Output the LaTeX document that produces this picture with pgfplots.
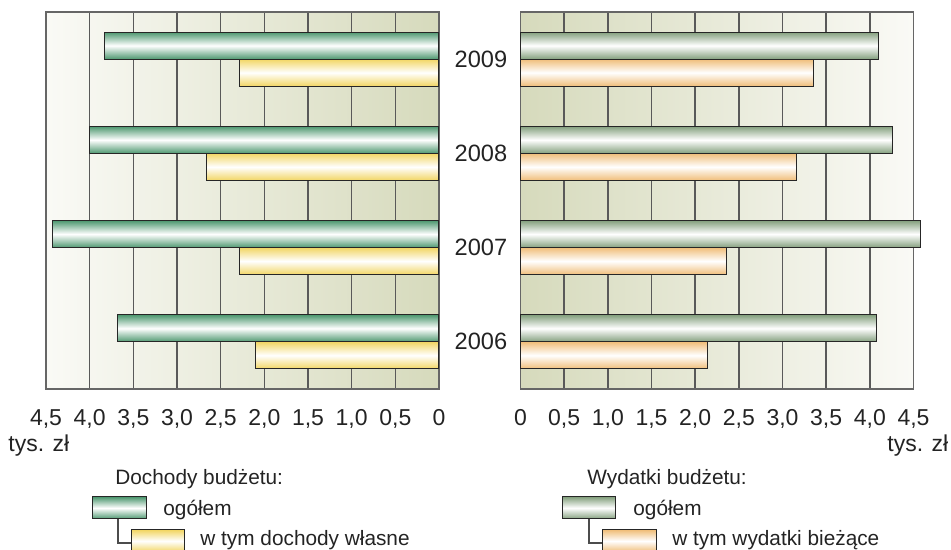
\documentclass[border=0pt]{standalone}
\usepackage{fontspec}
\setmainfont{Liberation Sans}
\usepackage{pgfplots}
\usepackage{pgfplotstable}
\pgfplotsset{compat=1.18}

\definecolor{bgL}{RGB}{250,250,246}
\definecolor{bgD}{RGB}{214,218,188}
\definecolor{grn}{RGB}{78,152,112}
\definecolor{yel}{RGB}{242,214,100}
\definecolor{gry}{RGB}{132,160,126}
\definecolor{pea}{RGB}{240,190,122}
\definecolor{txt}{RGB}{35,35,35}

% dochody ogolem / wlasne, wydatki ogolem / biezace (tys. zl)
\pgfplotstableread{
rok  dog  dwl  wog  wbz
2006 3.68 2.10 4.08 2.14
2007 4.42 2.29 4.58 2.36
2008 4.00 2.66 4.26 3.16
2009 3.83 2.29 4.10 3.35
}\dane

\tikzset{cyl/.style={draw=black!85, line width=0.5pt, top color=#1, bottom color=#1, middle color=white}}

\pgfplotsset{
  panel/.style={
    scale only axis, width=196.5pt, height=188.5pt, anchor=south west,
    xbar, bar width=13.5pt,
    xmin=0, xmax=4.5, ymin=2005.5, ymax=2009.5,
    xtick={0,0.5,1,1.5,2,2.5,3,3.5,4,4.5},
    xticklabels={0,{0,5},{1,0},{1,5},{2,0},{2,5},{3,0},{3,5},{4,0},{4,5}},
    major tick length=0pt,
    xmajorgrids, grid style={draw=black!65, line width=0.75pt},
    axis line style={draw=black!60, line width=0.75pt},
    tick label style={font=\fontsize{11.5}{13}\selectfont, text=txt},
    xticklabel style={yshift=-6.8pt},
  },
  % one bar per plot, so that each bar gets its own shading
  onebar/.style={x filter/.expression={\coordindex==#1 ? x : nan}},
}

\begin{document}
\begin{tikzpicture}[x=1pt,y=1pt]
\useasboundingbox (0,0) rectangle (475.5,275);

% Dochody
\begin{axis}[panel, at={(23pt,80.5pt)}, x dir=reverse,
  axis background/.style={left color=bgL, right color=bgD},
  ytick={2006,2007,2008,2009}, yticklabels={2006,2007,2008,2009},
  yticklabel pos=right,
  yticklabel style={anchor=center, xshift=21pt, font=\fontsize{11.8}{14}\selectfont}]
\pgfplotsinvokeforeach{0,1,2,3}{
  \addplot[cyl=grn, bar shift=6.75pt, onebar=#1] table[x=dog, y=rok] {\dane};
  \addplot[cyl=yel, bar shift=-6.75pt, onebar=#1] table[x=dwl, y=rok] {\dane};
}
\end{axis}

% Wydatki
\begin{axis}[panel, at={(260.25pt,80.5pt)}, clip=false,
  axis background/.style={left color=bgD, right color=bgL},
  ymajorticks=false]
\pgfplotsinvokeforeach{0,1,2,3}{
  \addplot[cyl=gry, bar shift=6.75pt, onebar=#1] table[x=wog, y=rok] {\dane};
  \addplot[cyl=pea, bar shift=-6.75pt, onebar=#1] table[x=wbz, y=rok] {\dane};
}
\end{axis}

\begin{scope}[every node/.style={text=txt, inner sep=0pt}]
\node[anchor=base west, font=\fontsize{11.5}{13}\selectfont] at (4,49) {tys. zł};
\node[anchor=base west, font=\fontsize{11.5}{13}\selectfont] at (443.5,49) {tys. zł};

\node[anchor=base west, font=\fontsize{10.4}{12}\selectfont] at (57.5,32.5) {Dochody budżetu:};
\draw[black!70, line width=0.6pt] (59,15.5) |- (65.5,3.5);
\draw[cyl=grn] (46,15.5) rectangle (73,26.5);
\draw[cyl=yel] (65.5,-1) rectangle (92,10);
\node[anchor=base west, font=\fontsize{10.4}{12}\selectfont] at (81.5,17) {ogółem};
\node[anchor=base west, font=\fontsize{10.4}{12}\selectfont] at (100,2) {w tym dochody własne};

\node[anchor=base west, font=\fontsize{10.4}{12}\selectfont] at (293.5,32.5) {Wydatki budżetu:};
\draw[black!70, line width=0.6pt] (294.5,15.5) |- (301,3.5);
\draw[cyl=gry] (281,15.5) rectangle (307.5,26.5);
\draw[cyl=pea] (301,-1) rectangle (328,10);
\node[anchor=base west, font=\fontsize{10.4}{12}\selectfont] at (316.5,17) {ogółem};
\node[anchor=base west, font=\fontsize{10.4}{12}\selectfont] at (336,2) {w tym wydatki bieżące};
\end{scope}
\end{tikzpicture}
\end{document}
